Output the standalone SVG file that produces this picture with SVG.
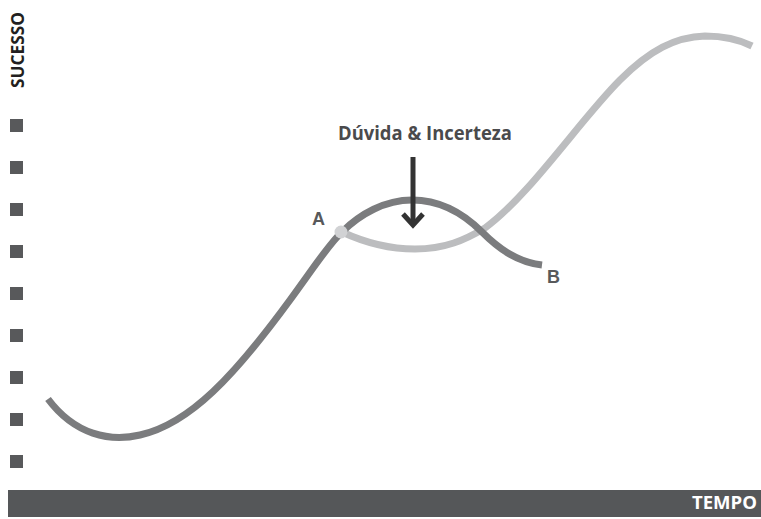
<svg xmlns="http://www.w3.org/2000/svg" width="761" height="519" viewBox="0 0 761 519">
<style>
.sq{fill:#58595b}
.lbl{font-family:"Open Sans","Liberation Sans",sans-serif;font-weight:bold}
.curve{fill:none;stroke-width:7;stroke-linecap:butt}
.pt{font-family:"Liberation Sans",Arial,sans-serif;font-weight:bold;font-size:18px;fill:#58595b}
</style>
<rect width="761" height="519" fill="#fff"/>
<g id="axis-y">
<text class="lbl" transform="translate(24,88) rotate(-90)" font-size="17" fill="#231f20" textLength="76" lengthAdjust="spacingAndGlyphs">SUCESSO</text>
<rect class="sq" x="10" y="119" width="13" height="13"/>
<rect class="sq" x="10" y="161" width="13" height="13"/>
<rect class="sq" x="10" y="203" width="13" height="13"/>
<rect class="sq" x="10" y="245" width="13" height="13"/>
<rect class="sq" x="10" y="287" width="13" height="13"/>
<rect class="sq" x="10" y="329" width="13" height="13"/>
<rect class="sq" x="10" y="371" width="13" height="13"/>
<rect class="sq" x="10" y="413" width="13" height="13"/>
<rect class="sq" x="10" y="455" width="13" height="13"/>
</g>
<g id="axis-x">
<rect x="8" y="490" width="753" height="27" fill="#555759"/>
<text class="lbl" x="692" y="509" font-size="17" fill="#fff" textLength="65" lengthAdjust="spacingAndGlyphs">TEMPO</text>
</g>
<g id="connectors">
<path class="curve" stroke="#bcbdbf" d="M342,232 C370,245 395,249 415,249 C445,249 465,240 485,228 C530,195 580,120 620,80 C650,50 675,37 705,36 C725,36 740,40 752,46"/>
<path class="curve" stroke="#7b7c7e" d="M48,399 C75,435 110,442 140,435 C190,424 235,375 290,300 C315,266 328,245 342,232 C360,214 385,200 412,200 C440,200 462,212 482,232 C500,250 518,262 542,265"/>
<circle cx="341" cy="232" r="6.5" fill="#d1d2d4"/>
<path d="M413,157 L413,224" stroke="#333" stroke-width="5" fill="none"/>
<path d="M403,214 L413,225 L423,214" stroke="#333" stroke-width="5" fill="none"/>
</g>
<g id="label-doubt">
<text class="lbl" x="338" y="140" font-size="19" fill="#4a4a4c" font-weight="600" textLength="174" lengthAdjust="spacingAndGlyphs">Dúvida &amp; Incerteza</text>
</g>
<g id="label-A">
<text class="pt" x="312" y="225">A</text>
</g>
<g id="label-B">
<text class="pt" x="547" y="283">B</text>
</g>
</svg>
